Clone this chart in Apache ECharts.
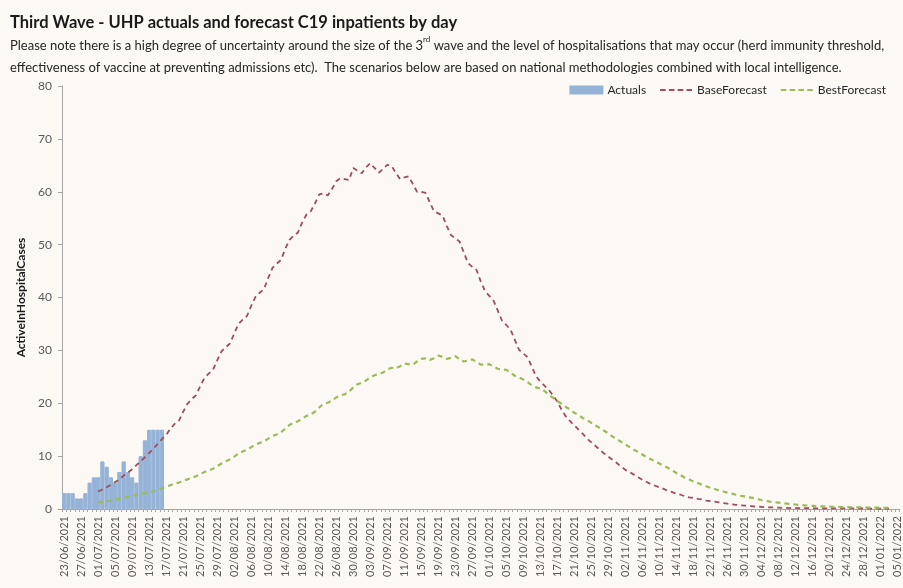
<!DOCTYPE html>
<html>
<head>
<meta charset="utf-8">
<script src="https://cdn.jsdelivr.net/npm/echarts@6/dist/echarts.min.js"></script>
<style>
html,body{margin:0;padding:0;background:#fcf9f5;}
#chart{width:903px;height:588px;}
</style>
</head>
<body>
<div id="chart"></div>
<script>
// ---- data ----
const startDate = [2021, 6, 23];   // 23/06/2021
const dayCount = 197;              // through 05/01/2022

// Actuals (from 23/06/2021)
const actuals = [3,3,3,2,2,3,5,6,6,9,8,6,5,7,9,7,6,5,10,13,15,15,15,15];

// forecasts start at index 8 (01/07/2021)
const forecastStart = 8;
const baseForecast = [
 3.3,3.7,4.1,4.6,5.1,5.6,6.3,6.9,7.5,8.3,9.0,9.8,10.6,11.4,12.3,13.2,
 14.0,15.2,16.1,16.7,18.4,19.9,20.8,21.5,23.2,24.8,25.6,26.3,28.1,29.8,30.6,31.3,
 33.2,35.0,35.8,36.5,38.4,40.1,40.9,41.6,43.7,45.6,46.4,47.1,49.2,50.9,51.7,52.3,
 54.2,55.7,56.3,57.8,59.5,59.7,59.3,60.5,62.0,62.6,62.4,62.2,64.5,64.0,63.5,64.6,
 65.4,64.5,63.6,64.3,65.1,64.9,63.6,62.4,
 62.7,62.9,61.5,60.0,60.0,59.8,58.0,56.3,55.9,55.5,53.5,51.8,51.2,50.6,48.5,46.5,
 45.8,45.2,43.0,41.2,40.3,39.4,37.5,35.6,34.8,33.9,32.0,30.1,29.4,28.7,26.9,25.1,
 24.1,23.3,22.5,21.5,20.3,18.8,17.5,16.6,15.8,15.0,14.2,13.3,12.6,11.9,11.2,10.5,
 9.9,9.3,8.7,8.0,7.4,7.0,6.5,6.0,5.5,5.1,4.7,4.4,4.1,3.8,3.4,3.2,
 2.9,2.7,2.4,2.2,2.1,1.9,1.8,1.6,1.5,1.4,1.25,1.1,1.0,0.9,0.8,0.7,
 0.65,0.6,0.5,0.45,0.4,0.35,0.3,0.3,0.25,0.2,0.2,
 0.18,0.17,0.16,0.15,0.15,0.14,0.13,0.13,0.12,0.12,0.11,0.11,0.1,0.1,0.1,0.1,
 0.09,0.09,0.09,0.08,0.08,0.08,0.08,0.07
];
const bestForecast = [
 1.25,1.35,1.45,1.6,1.75,1.9,2.1,2.3,2.45,2.65,2.85,3.0,3.15,3.35,3.55,3.9,
 4.2,4.5,4.8,5.0,5.3,5.6,5.9,6.2,6.6,7.0,7.3,7.6,8.1,8.6,9.0,9.4,
 9.9,10.5,10.9,11.2,11.7,12.2,12.5,12.8,13.3,13.8,14.1,14.5,15.2,15.9,16.3,16.6,
 17.1,17.6,17.9,18.4,19.2,19.9,20.1,20.5,21.1,21.5,21.7,22.2,23.0,23.6,23.9,24.3,
 24.9,25.3,25.5,25.8,26.4,26.7,26.6,27.0,
 27.5,27.4,27.3,27.9,28.4,28.5,28.2,28.5,29.0,28.8,28.4,28.6,28.9,28.3,27.9,28.1,
 28.3,27.8,27.3,27.3,27.4,27.0,26.5,26.4,26.3,25.8,25.2,24.9,24.5,24.0,23.4,23.0,
 22.8,22.3,21.6,21.0,20.4,19.9,19.3,18.8,18.2,17.7,17.2,16.8,16.3,15.8,15.3,14.8,
 14.3,13.7,13.2,12.7,12.2,11.7,11.2,10.8,10.3,9.8,9.4,9.0,8.6,8.2,7.8,7.3,
 6.8,6.4,5.9,5.6,5.2,4.9,4.6,4.3,4.0,3.8,3.5,3.3,3.1,2.9,2.7,2.5,
 2.4,2.2,2.1,1.9,1.7,1.55,1.4,1.3,1.2,1.1,1.0,0.9,0.85,0.75,0.7,0.65,
 0.6,0.55,0.5,0.48,0.45,0.42,0.4,0.37,0.35,0.32,0.3,0.3,0.28,0.27,0.26,0.25,
 0.25,0.24,0.23
];

const titleText = 'Third Wave - UHP actuals and forecast C19 inpatients by day';
const noteLine1 = 'Please note there is a high degree of uncertainty around the size of the 3{sup|rd} wave and the level of hospitalisations that may occur (herd immunity threshold,';
const noteLine2 = 'effectiveness of vaccine at preventing admissions etc).  The scenarios below are based on national methodologies combined with local intelligence.';
const yAxisName = 'ActiveInHospitalCases';

// ---- build ----
function pad2(n){return (n<10?'0':'')+n;}
const dates = [];
{
  const d0 = new Date(Date.UTC(startDate[0], startDate[1]-1, startDate[2]));
  for (let i=0;i<dayCount;i++){
    const d = new Date(d0.getTime() + i*86400000);
    dates.push(pad2(d.getUTCDate())+'/'+pad2(d.getUTCMonth()+1)+'/'+d.getUTCFullYear());
  }
}
function place(arr, start){
  const out = new Array(dayCount).fill(null);
  arr.forEach((v,i)=>{ out[start+i]=v; });
  return out;
}

const BAR = '#95b3d7', BASE = '#a04c5c', BEST = '#9bbb59';
const dashIcon = 'path://M0,0h5v2h-5z M8,0h5v2h-5z M16,0h5v2h-5z M24,0h5v2h-5z';

const chart = echarts.init(document.getElementById('chart'), null, {renderer:'canvas'});
const FONT = 'Lato';
chart.setOption({
  backgroundColor:'#fcf9f5',
  animation:false,
  title:[
    {left:5, top:9, text:titleText,
     textStyle:{fontFamily:FONT, fontSize:16.5, fontWeight:'bold', color:'#1a1a1a'}},
    {left:5, top:30, text:noteLine1+'\n'+noteLine2,
     textStyle:{fontFamily:FONT, fontSize:13, fontWeight:'normal', color:'#262626', lineHeight:22,
       rich:{sup:{fontFamily:FONT, fontSize:8, color:'#262626', verticalAlign:'top', lineHeight:14}}}}
  ],
  legend:{
    top:79, right:12, itemGap:14, itemWidth:32, itemHeight:7,
    textStyle:{fontFamily:FONT, fontSize:12, color:'#262626'},
    data:[
      {name:'Actuals', icon:'rect'},
      {name:'BaseForecast', icon:dashIcon, itemStyle:{color:BASE}},
      {name:'BestForecast', icon:dashIcon, itemStyle:{color:BEST}}
    ]
  },
  grid:{left:62, right:2, top:86, bottom:79, containLabel:false},
  xAxis:{
    type:'category', data:dates, boundaryGap:true,
    axisLine:{lineStyle:{color:'#a6a6a6'}},
    axisTick:{show:true, interval:0, length:3, lineStyle:{color:'#a6a6a6'}},
    axisLabel:{interval:3, rotate:90, fontFamily:FONT, fontSize:11, color:'#595959', margin:7}
  },
  yAxis:{
    type:'value', min:0, max:80, interval:10,
    name:yAxisName, nameLocation:'middle', nameRotate:90, nameGap:28,
    nameTextStyle:{fontFamily:FONT, fontSize:12, fontWeight:'bold', color:'#1a1a1a'},
    axisLine:{show:true, lineStyle:{color:'#a6a6a6'}},
    axisTick:{show:true, length:4, lineStyle:{color:'#a6a6a6'}},
    splitLine:{show:false},
    axisLabel:{fontFamily:FONT, fontSize:12, color:'#595959', margin:10}
  },
  series:[
    {name:'Actuals', type:'bar', data:place(actuals,0), barWidth:'100%',
     itemStyle:{color:BAR, borderColor:BAR, borderWidth:1}},
    {name:'BaseForecast', type:'line', data:place(baseForecast,forecastStart), symbol:'none',
     lineStyle:{color:BASE, width:1.8, type:[5,4]}, itemStyle:{color:BASE}},
    {name:'BestForecast', type:'line', data:place(bestForecast,forecastStart), symbol:'none',
     lineStyle:{color:BEST, width:2.2, type:[5,4]}, itemStyle:{color:BEST}}
  ]
});
</script>
</body>
</html>
